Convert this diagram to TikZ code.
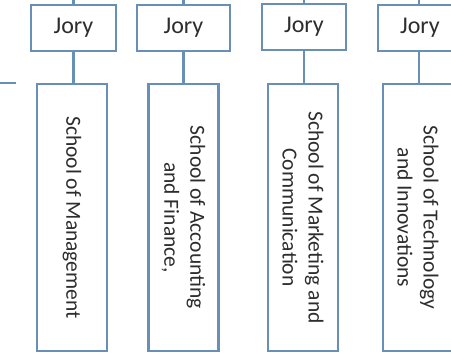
\documentclass[tikz,border=0pt]{standalone}
\usepackage{fontspec}
\setmainfont{Carlito}
\definecolor{edge}{RGB}{104,144,182}
\definecolor{txt}{RGB}{45,45,45}
\begin{document}
\begin{tikzpicture}[x=1pt,y=1pt,
  jory/.style={draw=edge,line width=2.4pt,fill=white,minimum height=46pt,inner sep=0pt,text=txt,font=\fontsize{24}{26}\selectfont},
  school/.style={draw=edge,line width=2.2pt,fill=white,rotate=-90,minimum width=267pt,minimum height=70pt,inner sep=0pt,align=center,text=txt,font=\fontsize{21.5}{26}\selectfont},
  conn/.style={draw=edge,line width=2.4pt}]
\useasboundingbox (0,0) rectangle (451,353);
\clip (0,0) rectangle (451,353);
\fill[white] (0,0) rectangle (451,353);
% Jory boxes
\node[jory,minimum width=85pt] (j1) at (73.5,325) {Jory};
\node[jory,minimum width=93pt] (j2) at (183.5,325) {Jory};
\node[jory,minimum width=84pt] (j3) at (304,326) {Jory};
\node[jory,minimum width=84pt] (j4) at (420,325) {Jory};
% School boxes
\node[school] (s1) at (72,135.5) {School of Management};
\node[school] (s2) at (183.5,135.5) {School of Accounting\\and Finance,};
\node[school] (s3) at (303,135.5) {School of Marketing and\\Communication};
\node[school] (s4) at (418,135.5) {School of Technology\\and Innovations};
% upward stubs
\coordinate (t1) at (73.5,360);
\coordinate (t2) at (183.5,360);
\coordinate (t3) at (304,360);
\coordinate (t4) at (419,360);
\draw[conn] (j1.north) -- (t1);
\draw[conn] (j2.north) -- (t2);
\draw[conn] (j3.north) -- (t3);
\draw[conn] (419,348) -- (t4);
% connectors
\draw[conn] (j1.south) -- (j1.south |- s1.west);
\draw[conn] (j2.south) -- (j2.south |- s2.west);
\draw[conn] (j3.south) -- (j3.south |- s3.west);
\draw[conn] (419,302) -- (419,269);
% left stub
\coordinate (l1) at (0,270);
\coordinate (l2) at (16,270);
\draw[conn,line width=2pt] (l1) -- (l2);
\end{tikzpicture}
\end{document}
